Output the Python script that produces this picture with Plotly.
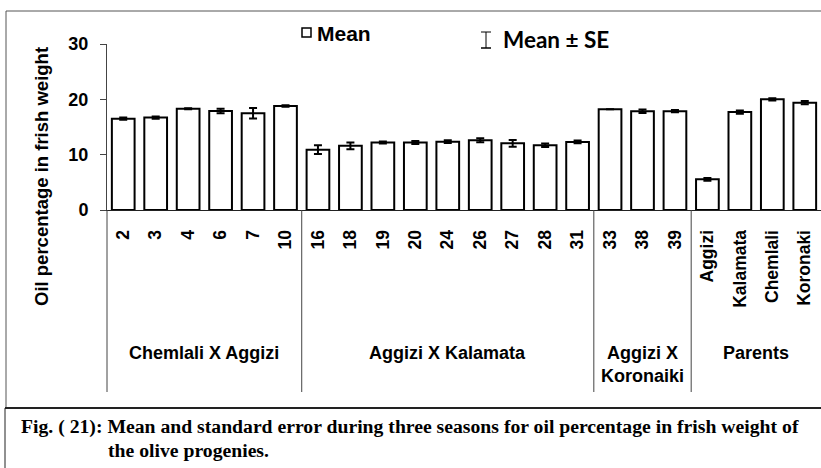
import plotly.graph_objects as go

# ---- data ----
categories = ["2", "3", "4", "6", "7", "10",
              "16", "18", "19", "20", "24", "26", "27", "28", "31",
              "33", "38", "39",
              "Aggizi", "Kalamata", "Chemlali", "Koronaki"]
means = [16.5, 16.7, 18.3, 17.9, 17.5, 18.8,
         10.9, 11.6, 12.2, 12.2, 12.35, 12.6, 12.05, 11.7, 12.3,
         18.2, 17.85, 17.85,
         5.55, 17.7, 20.0, 19.4]
se = [0.2, 0.2, 0.1, 0.4, 0.95, 0.15,
      0.8, 0.6, 0.2, 0.25, 0.25, 0.35, 0.6, 0.3, 0.25,
      0.0, 0.3, 0.2,
      0.25, 0.3, 0.2, 0.3]
group_names = ["Chemlali X Aggizi", "Aggizi X Kalamata", "Aggizi X<br>Koronaiki", "Parents"]
group_sizes = [6, 9, 3, 4]
yticks = [0, 10, 20, 30]
caption1 = "Fig. ( 21): Mean and standard error during three seasons for oil percentage in frish weight of"
caption2 = "the olive progenies."

# ---- geometry ----
W, H = 821, 468
L, R, T, B = 107, 0, 44, 258
PW, PH = W - L - R, H - T - B

def px(x):
    return (x - L) / PW

def py(y):
    return (H - B - y) / PH

SANS = "Liberation Sans"

fig = go.Figure(go.Bar(
    x=categories, y=means,
    marker=dict(color="white", line=dict(color="black", width=2)),
    width=0.7,
    error_y=dict(type="data", array=se, color="black", thickness=2, width=4),
    showlegend=False,
))

shapes = []
annotations = []

# y-axis extension downward and group dividers
shapes.append(dict(type="line", xref="paper", yref="paper", x0=0, x1=0,
                   y0=py(392), y1=0, line=dict(color="#444", width=1)))
pos = 0
for i, (name, n) in enumerate(zip(group_names, group_sizes)):
    center = pos + (n - 1) / 2
    annotations.append(dict(x=center, xref="x", y=py(341), yref="paper",
                            text=name, showarrow=False, xanchor="center", yanchor="top",
                            font=dict(family=SANS, size=18, color="black", weight="bold")))
    pos += n
    if i < len(group_sizes) - 1:
        shapes.append(dict(type="line", xref="x", yref="paper", x0=pos - 0.5, x1=pos - 0.5,
                           y0=py(392), y1=0, line=dict(color="#444", width=1)))

# outer frames
shapes.append(dict(type="rect", xref="paper", yref="paper", x0=px(6), x1=px(840),
                   y0=py(408), y1=py(11), line=dict(color="#555", width=1)))
shapes.append(dict(type="rect", xref="paper", yref="paper", x0=px(5), x1=px(840),
                   y0=py(500), y1=py(408), line=dict(color="#222", width=1)))
shapes.append(dict(type="line", xref="paper", yref="paper", x0=px(5), x1=px(840),
                   y0=py(408), y1=py(408), line=dict(color="#222", width=2)))

# legend: Mean (square)
shapes.append(dict(type="rect", xref="paper", yref="paper", x0=px(302), x1=px(311),
                   y0=py(37), y1=py(28), line=dict(color="black", width=1.5), fillcolor="white"))
annotations.append(dict(x=px(315), y=py(33), xref="paper", yref="paper", text="Mean",
                        showarrow=False, xanchor="left", yanchor="middle",
                        font=dict(family=SANS, size=21, color="black", weight="bold")))
# legend: Mean ± SE (error bar icon)
shapes.append(dict(type="line", xref="paper", yref="paper", x0=px(486), x1=px(486),
                   y0=py(48), y1=py(32), line=dict(color="black", width=1)))
shapes.append(dict(type="line", xref="paper", yref="paper", x0=px(481), x1=px(491),
                   y0=py(32), y1=py(32), line=dict(color="black", width=1)))
shapes.append(dict(type="line", xref="paper", yref="paper", x0=px(481), x1=px(491),
                   y0=py(48), y1=py(48), line=dict(color="black", width=1.5)))
annotations.append(dict(x=px(501), y=py(40), xref="paper", yref="paper", text="Mean ± SE",
                        showarrow=False, xanchor="left", yanchor="middle",
                        font=dict(family="Lato", size=22.5, color="black", weight="bold")))

# caption
annotations.append(dict(x=px(19), y=py(426), xref="paper", yref="paper", text=caption1,
                        showarrow=False, xanchor="left", yanchor="middle",
                        font=dict(family="Liberation Serif", size=19.7, color="black", weight="bold")))
annotations.append(dict(x=px(106), y=py(450), xref="paper", yref="paper", text=caption2,
                        showarrow=False, xanchor="left", yanchor="middle",
                        font=dict(family="Liberation Serif", size=19.7, color="black", weight="bold")))

# y title
annotations.append(dict(x=px(41), y=py(177), xref="paper", yref="paper",
                        text="Oil percentage in frish weight", textangle=-90,
                        showarrow=False, xanchor="center", yanchor="middle",
                        font=dict(family=SANS, size=18.5, color="black", weight="bold")))

fig.update_layout(
    width=W, height=H,
    margin=dict(l=L, r=R, t=T, b=B, pad=0),
    paper_bgcolor="white", plot_bgcolor="white",
    bargap=0.3,
    shapes=shapes, annotations=annotations,
    xaxis=dict(type="category", showline=True, linecolor="#222", linewidth=1,
               showgrid=False, ticks="", tickangle=-90, ticklabelstandoff=12,
               tickfont=dict(family=SANS, size=17.5, color="black", weight="bold")),
    yaxis=dict(range=[0, 30], tickvals=yticks, showline=True, linecolor="#444", linewidth=1,
               showgrid=False, zeroline=False, ticks="outside", ticklen=6, tickcolor="#444",
               ticklabelstandoff=8,
               tickfont=dict(family=SANS, size=18, color="black", weight="bold")),
)

fig.write_html("out.html")
